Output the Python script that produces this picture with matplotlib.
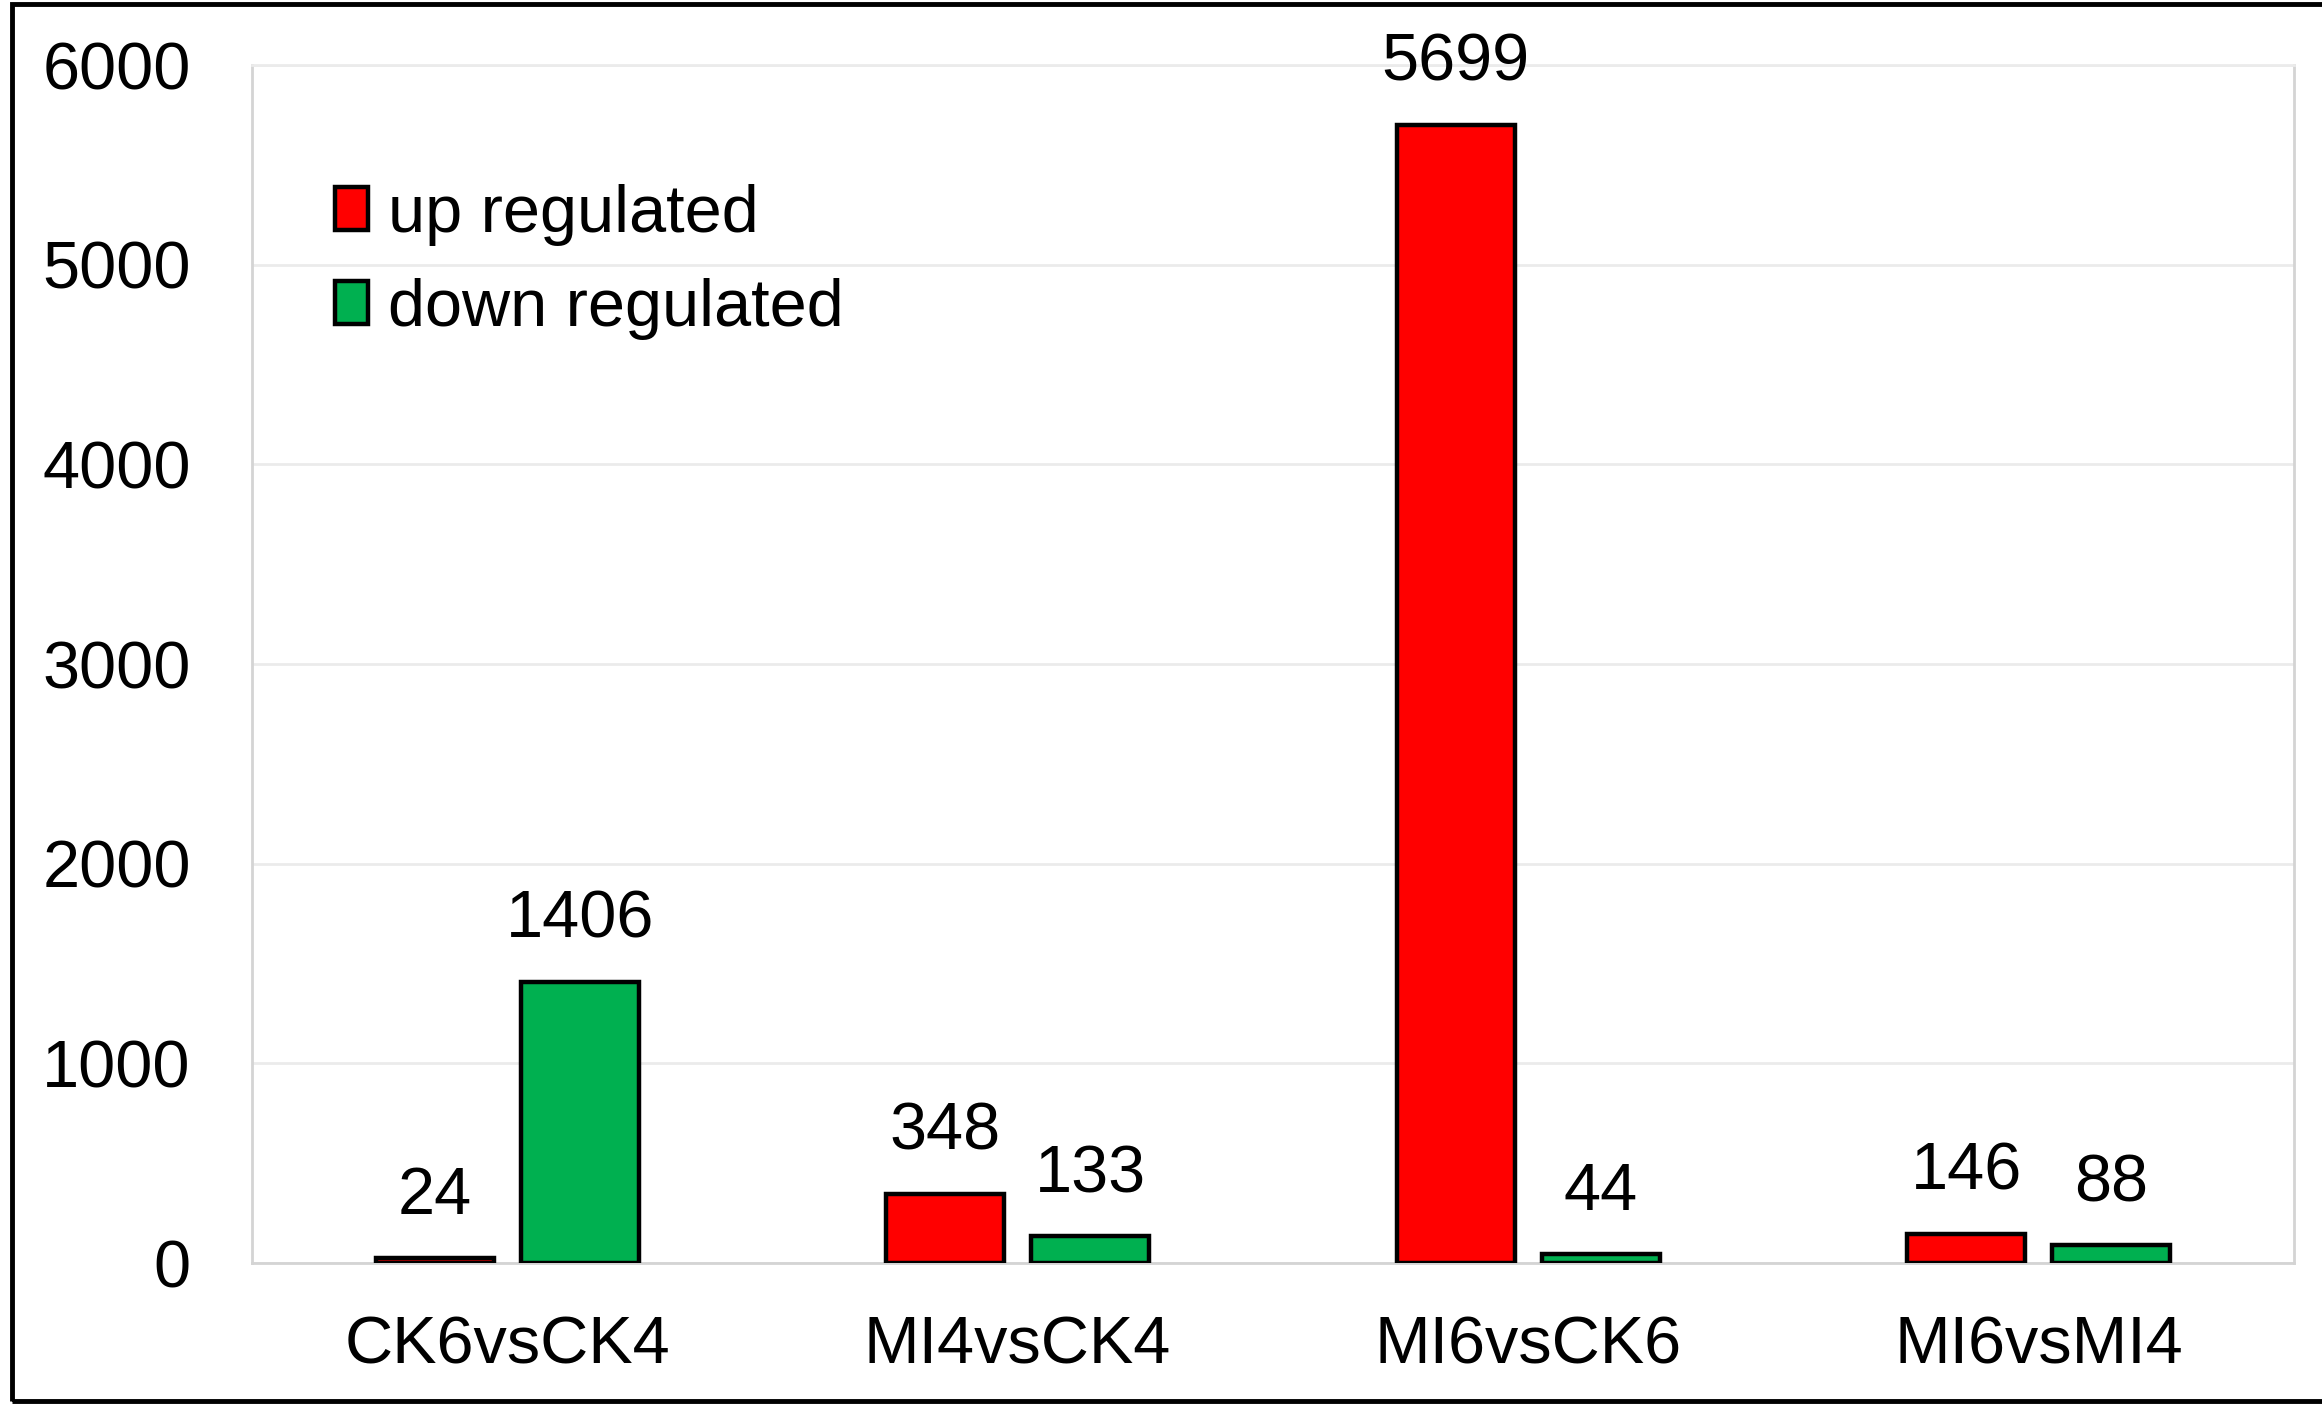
import numpy as np
import matplotlib
matplotlib.use("Agg")
import matplotlib.pyplot as plt
from matplotlib.patches import Rectangle

plt.rcParams["font.family"] = ["Liberation Sans", "DejaVu Sans"]

comparisons = ["CK6vsCK4", "MI4vsCK4", "MI6vsCK6", "MI6vsMI4"]
up_counts = [24, 348, 5699, 146]
down_counts = [1406, 133, 44, 88]
series_labels = ["up regulated", "down regulated"]
y_ticks = [0, 1000, 2000, 3000, 4000, 5000, 6000]

UP_COLOR = "#ff0000"
DOWN_COLOR = "#00b050"
FS = 48
BAR_W = 0.231
OFFSET = 0.142
EDGE_LW = 3.2

fig = plt.figure(figsize=(23.22, 14.04), dpi=100)
ax = fig.add_axes([0.1085, 0.1004, 0.8794, 0.8533])

x = np.arange(len(comparisons))
bars_up = ax.bar(x - OFFSET, up_counts, BAR_W, color=UP_COLOR,
                 edgecolor="black", linewidth=EDGE_LW, label=series_labels[0], zorder=3)
bars_dn = ax.bar(x + OFFSET, down_counts, BAR_W, color=DOWN_COLOR,
                 edgecolor="black", linewidth=EDGE_LW, label=series_labels[1], zorder=3)

# value labels above each bar
for bars, vals in ((bars_up, up_counts), (bars_dn, down_counts)):
    for b, v in zip(bars, vals):
        ax.annotate(str(v), (b.get_x() + b.get_width() / 2, v),
                    xytext=(0, 32), textcoords="offset points",
                    ha="center", va="baseline", fontsize=FS,
                    annotation_clip=False)

ax.set_xlim(-0.5, len(comparisons) - 0.5)
ax.set_ylim(0, 6000)
ax.set_yticks(y_ticks)
ax.set_yticklabels([str(t) for t in y_ticks])
ax.set_xticks(x)
ax.set_xticklabels(comparisons)
ax.tick_params(axis="y", length=0, pad=44, labelsize=FS)
ax.tick_params(axis="x", length=0, pad=38, labelsize=FS)

ax.yaxis.grid(True, color="#ebebeb", linewidth=2.0, zorder=0)
ax.set_axisbelow(True)
for side in ("left", "right", "bottom", "top"):
    ax.spines[side].set_color("#d4d4d4")
    ax.spines[side].set_linewidth(2.0)
ax.spines["top"].set_color("#ebebeb")

leg = ax.legend(loc="upper left", bbox_to_anchor=(335 / 2322, 1 - 184 / 1404),
                bbox_transform=fig.transFigure, frameon=False, fontsize=FS,
                handlelength=0.5, handleheight=0.62, handletextpad=0.3,
                labelspacing=0.48, borderpad=0, borderaxespad=0)
for h in leg.legend_handles:
    h.set_linewidth(EDGE_LW)

# black frame around the figure (right side runs off the edge)
fig.patches.append(Rectangle((12 / 2322, 3 / 1404), 2330 / 2322, 1397 / 1404,
                             transform=fig.transFigure, fill=False,
                             edgecolor="black", linewidth=3.5))

fig.savefig("out.png", dpi=100, facecolor="white")
